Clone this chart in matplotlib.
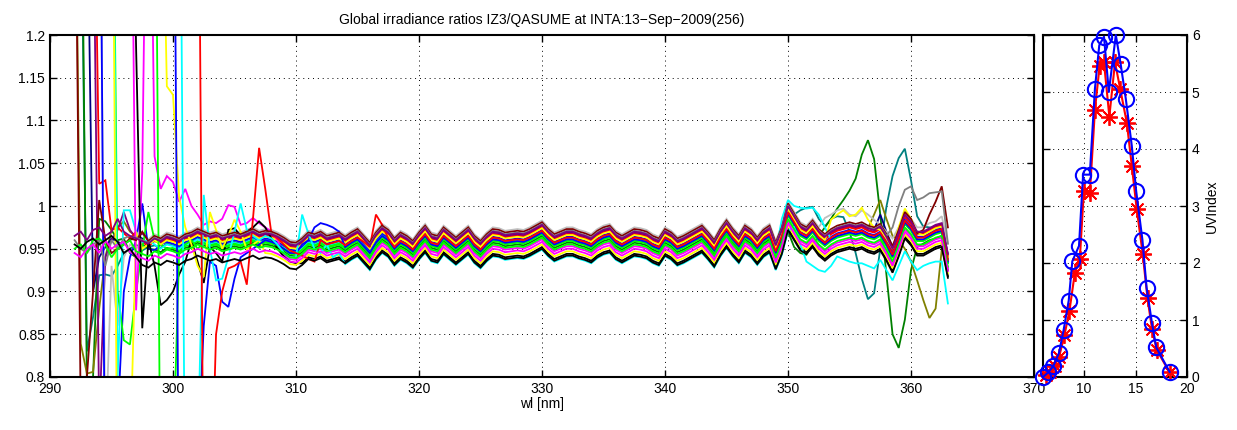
import numpy as np
import matplotlib
matplotlib.use("Agg")
import matplotlib.pyplot as plt

plt.rcParams['font.family'] = ['Liberation Sans', 'DejaVu Sans']
plt.rcParams['font.size'] = 10

# ---------------- data ----------------
wavelength = np.arange(292.0, 363.01, 0.5)   # nm, 143 points

# central (typical) ratio curve read from the band of scans
base_ratio = [
    0.960, 0.958, 0.962, 0.960, 0.958, 0.962, 0.958, 0.960, 0.956, 0.962,
    0.958, 0.955, 0.952, 0.958, 0.955, 0.960, 0.958, 0.955, 0.960, 0.962,
    0.966, 0.963, 0.960, 0.962, 0.958, 0.960,
    0.962, 0.960, 0.963, 0.966, 0.962, 0.964, 0.963, 0.960, 0.956, 0.951,
    0.950, 0.955, 0.962, 0.960, 0.963, 0.958, 0.960, 0.962, 0.957, 0.962,
    0.966, 0.958, 0.950, 0.962, 0.970, 0.965, 0.955, 0.962, 0.958, 0.952,
    0.962, 0.970, 0.960, 0.958, 0.968, 0.962, 0.956, 0.962, 0.968, 0.958,
    0.952, 0.960, 0.966, 0.965, 0.962, 0.963, 0.964, 0.963, 0.966, 0.970,
    0.974, 0.966, 0.960, 0.963, 0.966, 0.966, 0.963, 0.961, 0.958, 0.964,
    0.968, 0.970, 0.962, 0.958, 0.962, 0.966, 0.965, 0.963, 0.958, 0.955,
    0.966, 0.962, 0.955, 0.958, 0.962, 0.966, 0.970, 0.962, 0.953, 0.966,
    0.976, 0.966, 0.958, 0.970, 0.965, 0.956, 0.965, 0.970, 0.950, 0.968,
    0.996, 0.984, 0.972, 0.968, 0.976, 0.966, 0.960, 0.966, 0.970, 0.972,
    0.974, 0.972, 0.974, 0.970, 0.968, 0.972, 0.960, 0.946, 0.965, 0.986,
    0.978, 0.966, 0.966, 0.970, 0.974, 0.976, 0.940,
]

# per-scan level relative to the central curve
series_offsets = [-0.004, -0.009, 0.004, 0.003, 0.002, 0.001, 0.009, -0.002,
                  -0.007, -0.005, 0.000, -0.013, -0.022, -0.006, -0.019, -0.005,
                  -0.025, -0.003, 0.007, 0.005, -0.011, -0.016, -0.024, 0.004]

series_colors = [(0, .5, .5), (0, .5, 0), (.5, .5, 0), (0, 0, .5), (.5, 0, .5),
                 (1, 0, 0), (.75, .75, .75), (0, 0, 1), (0, 1, 0), (0, 1, 1),
                 (1, 1, 0), (1, 0, 1), (0, 0, 0), (0, 1, 0), (1, 1, 0), (0, 0, 1),
                 (0, 1, 1), (1, 0, 0), (.5, 0, 0), (.5, .5, .5), (0, 1, 0),
                 (1, 0, 1), (0, 0, 0), (.5, 0, .5)]

# short-wavelength values of each scan, from 292 nm in 0.5 nm steps
head_teal1 = [1.6, 1.4, 0.83, 0.87, 0.919, 0.92, 0.918, 0.93, 0.945, 0.95, 0.955, 0.948, 0.952]
head_dkgreen1 = [1.6, 1.5, 0.79, 0.80, 0.985, 0.982, 0.972, 0.96, 0.962, 0.945, 0.94, 0.955, 0.95]
head_olive1 = [1.5, 0.839, 0.804, 0.806, 0.88, 0.94, 0.972, 0.975, 0.982, 0.97, 0.965, 0.96]
head_navy1 = [1.6, 1.6, 1.4, 0.90, 0.94, 0.952, 0.962, 0.958, 0.955, 0.96, 0.965, 0.962]
head_purple1 = [1.6, 1.6, 1.6, 1.4, 0.75, 0.94, 0.96, 0.972, 0.993, 0.972, 0.962, 0.968, 0.96]
head_red1 = [1.6, 1.6, 1.6, 1.5, 1.026, 1.03, 0.972, 0.975, 0.968, 0.962, 0.97, 0.958]
head_silver1 = [1.6, 1.6, 1.6, 1.6, 1.5, 0.72, 0.93, 0.86, 0.94, 0.955, 0.95, 0.958]
head_blue1 = [1.6, 1.6, 1.6, 1.6, 1.6, 0.6, 0.6, 0.75, 0.9, 0.94, 0.96, 1.003, 0.95, 0.948, 0.955]
head_lime1 = [1.6, 1.6, 1.6, 1.6, 1.6, 1.6, 1.6, 0.9, 0.843, 0.838, 0.9, 0.95, 0.993, 0.96, 0.955, 0.95]
head_cyan1 = [1.6, 1.6, 1.6, 1.6, 1.6, 1.6, 1.6, 0.8, 0.995, 0.995, 0.97, 0.958, 0.96, 0.955]
head_yellow1 = [1.6, 1.6, 1.6, 1.6, 1.6, 1.6, 1.6, 0.6, 0.6, 0.7, 0.97, 0.95, 0.955, 0.96]
head_magenta1 = [1.6, 1.6, 1.6, 1.6, 1.6, 1.6, 1.6, 1.6, 1.6, 1.6,
                 0.878, 1.04, 1.6, 1.058, 1.02, 1.035, 1.028, 1.005, 1.02, 1.0,
                 0.99, 0.978, 0.982, 0.98, 0.985, 1.001, 0.999, 0.978, 0.98, 0.986,
                 0.98, 0.975, 0.97, 0.96]
head_black1 = [1.6, 1.6, 1.6, 1.6, 1.6, 1.6, 1.6, 1.6, 1.6, 1.6,
               1.185, 0.857, 0.96, 0.93, 0.884, 0.89, 0.90, 0.92, 0.935, 0.96,
               0.935, 0.91, 0.952, 0.945, 0.935, 0.972, 0.974, 0.965, 0.97, 0.975,
               0.982, 0.975, 0.962, 0.95, 0.941, 0.935, 0.933]
head_lime2 = [1.6, 1.6, 1.6, 1.6, 1.6, 1.6, 1.6, 1.6, 1.6, 1.6, 1.6, 1.6, 1.6, 1.6,
              0.6, 0.6, 0.7, 0.945, 0.955, 0.96, 0.95]
head_yellow2 = [1.6, 1.6, 1.6, 1.6, 1.6, 1.6, 1.6, 1.6, 1.6, 1.6, 1.6, 1.6, 1.6, 1.6,
                1.5, 1.14, 1.13, 1.01, 0.975, 0.955, 0.93, 0.917, 0.993, 0.972,
                0.95, 0.965, 0.984, 0.97, 0.949, 0.955, 0.96]
head_blue2 = [1.6, 1.6, 1.6, 1.6, 1.6, 1.6, 1.6, 1.6, 1.6, 1.6, 1.6, 1.6, 1.6, 1.6,
              1.6, 1.6, 1.6,
              0.6, 0.6, 0.6, 0.7, 0.86, 0.935, 0.93, 0.888, 0.882, 0.915,
              0.94, 0.945, 0.95, 0.955, 0.96, 0.958, 0.955, 0.95, 0.945, 0.945,
              0.955, 0.96, 0.975, 0.98, 0.978, 0.975, 0.97]
head_cyan2 = [1.6, 1.6, 1.6, 1.6, 1.6, 1.6, 1.6, 1.6, 1.6, 1.6, 1.6, 1.6, 1.6, 1.6,
              1.6, 1.6, 1.6, 1.6,
              0.6, 0.6, 0.7, 1.013, 0.95, 0.913, 0.915, 0.94, 0.97, 1.003,
              0.972, 0.965, 0.96, 0.965, 0.962, 0.955, 0.945, 0.94, 0.94, 0.99,
              0.968, 0.95, 0.945, 0.955, 0.94, 0.945]
head_red2 = [1.6, 1.6, 1.6, 1.6, 1.6, 1.6, 1.6, 1.6, 1.6, 1.6, 1.6, 1.6, 1.6, 1.6,
             1.6, 1.6, 1.6, 1.6, 1.6, 1.6, 1.6,
             0.6, 0.6, 0.85, 0.9, 0.927, 0.93, 0.935, 0.908, 0.985, 1.068,
             1.02, 0.968, 0.962, 0.955, 0.948, 0.945, 0.942, 0.938, 0.935]
head_maroon1 = [1.5, 0.75, 0.80, 0.90, 1.007, 0.96, 0.945, 0.95, 0.955, 0.962, 0.96, 0.97]
head_gray1 = [0.96, 0.95, 0.945, 0.955, 0.96, 0.93, 0.96, 0.95, 0.962, 0.965]
head_lime3 = [0.95, 0.955, 0.945, 0.96, 0.962, 0.955, 0.94, 0.95, 0.955, 0.96]
head_magenta2 = [0.945, 0.94, 0.95, 0.955, 0.945, 0.96, 0.95, 0.955, 0.958]
head_black2 = [0.955, 0.95, 0.958, 0.962, 0.955, 0.96, 0.965, 0.958, 0.945, 0.95, 0.94]
head_purple2 = [0.965, 0.97, 0.96, 0.972, 0.975, 0.965, 0.97, 0.985, 0.97, 0.965]

series_heads = [head_teal1, head_dkgreen1, head_olive1, head_navy1, head_purple1,
                head_red1, head_silver1, head_blue1, head_lime1, head_cyan1,
                head_yellow1, head_magenta1, head_black1, head_lime2, head_yellow2,
                head_blue2, head_cyan2, head_red2, head_maroon1, head_gray1,
                head_lime3, head_magenta2, head_black2, head_purple2]

# long-wavelength deviations: (series index, start wavelength, values)
tail_teal1 = [0.99, 0.995, 0.998, 0.999, 0.985, 0.976, 0.985, 0.988, 0.987, 0.97,
              0.945, 0.915, 0.891, 0.898, 0.95, 0.999, 1.035, 1.056, 1.067, 1.03,
              0.988, 0.976, 0.975, 0.974, 0.972, 0.935]
tail_dkgreen1 = [0.97, 0.952, 0.945, 0.943, 0.955, 0.965, 0.975, 0.985, 0.997, 1.007,
                 1.018, 1.032, 1.06, 1.077, 1.055, 0.99, 0.92, 0.85, 0.834, 0.867,
                 0.925, 0.952, 0.956, 0.96, 0.962, 0.965, 0.925]
tail_olive1 = [0.99, 1.007, 0.985, 0.965, 0.96, 0.95, 0.935, 0.913, 0.89, 0.869, 0.88, 0.949, 0.94]
tail_navy1 = [0.975, 0.972, 0.99, 0.97, 0.952]
tail_silver1 = [0.986, 0.99, 0.995, 0.997, 0.99, 0.988, 0.995, 0.99, 0.984, 0.978,
                0.97, 0.962, 0.975, 0.99, 0.985, 0.975, 0.975, 0.98, 0.982, 0.988, 0.956]
tail_cyan1 = [0.985, 1.007, 1.0, 0.998, 0.997, 0.998, 0.99, 0.975]
tail_yellow1 = [0.984, 0.99, 0.995, 0.988, 0.99, 0.998, 0.984, 0.975, 0.972, 0.962,
                0.95, 0.975, 0.997, 0.985, 0.968]
tail_cyan2 = [0.975, 0.955, 0.935, 0.93, 0.925, 0.923, 0.93, 0.941, 0.938, 0.935,
              0.933, 0.933, 0.93, 0.927, 0.937, 0.925, 0.913, 0.93, 0.947, 0.935,
              0.925, 0.93, 0.933, 0.935, 0.935, 0.886]
patch_red2 = [0.958, 0.952, 0.99, 0.978]
tail_maroon1 = [0.968, 0.972, 0.99, 1.005, 1.023, 0.975]
tail_gray1 = [0.975, 1.0, 1.019, 1.023, 1.007, 1.01, 1.015, 1.016, 1.017, 0.956]

series_segments = [(0, 350.5, tail_teal1), (1, 350.0, tail_dkgreen1),
                   (2, 357.0, tail_olive1), (3, 356.5, tail_navy1),
                   (6, 353.0, tail_silver1), (9, 349.5, tail_cyan1),
                   (10, 353.5, tail_yellow1), (16, 350.5, tail_cyan2),
                   (17, 315.5, patch_red2), (18, 360.5, tail_maroon1),
                   (19, 358.5, tail_gray1)]

# UV index during the day (hour)
iz3_time = [6.26, 6.65, 7.14, 7.56, 8.08, 8.57, 9.09, 9.58, 9.97, 10.56, 11.05, 11.5,
            11.93, 12.45, 13.0, 13.5, 14.15, 14.63, 15.11, 15.7, 16.16, 16.6, 17.07, 18.31]
iz3_uvi = [0.03, 0.09, 0.20, 0.35, 0.73, 1.16, 1.82, 2.07, 3.26, 3.23, 4.69, 5.45,
           5.52, 4.57, 5.52, 5.06, 4.46, 3.71, 2.95, 2.15, 1.38, 0.84, 0.47, 0.08]
qasume_time = [6.0, 6.5, 7.0, 7.55, 8.0, 8.5, 8.85, 9.5, 9.9, 10.55, 11.05, 11.47,
               11.93, 12.4, 13.08, 13.55, 14.05, 14.63, 15.06, 15.67, 16.07, 16.59, 17.01, 18.31]
qasume_uvi = [0.0, 0.08, 0.19, 0.42, 0.82, 1.34, 2.03, 2.30, 3.55, 3.55, 5.06, 5.82,
              5.97, 5.0, 6.0, 5.49, 4.88, 4.06, 3.26, 2.40, 1.57, 0.95, 0.52, 0.09]

title_text = 'Global irradiance ratios IZ3/QASUME at INTA:13\u2212Sep\u22122009(256)'
ytick_vals = [0.8, 0.85, 0.9, 0.95, 1.0, 1.05, 1.1, 1.15, 1.2]
ytick_labels = ['0.8', '0.85', '0.9', '0.95', '1', '1.05', '1.1', '1.15', '1.2']

# ---------------- figure ----------------
W, H = 1237, 430
fig = plt.figure(figsize=(W / 100, H / 100), dpi=100)
ax = fig.add_axes([50 / W, 1 - 377 / H, 984 / W, 342 / H])
ax2 = fig.add_axes([1043 / W, 1 - 377 / H, 144 / W, 342 / H])

base = np.array(base_ratio)
curves = []
for k in range(len(series_heads)):
    vals = base + series_offsets[k]
    h = series_heads[k]
    vals[:len(h)] = h
    curves.append(vals)
for k, start, seg in series_segments:
    i0 = int(round((start - wavelength[0]) / 0.5))
    curves[k][i0:i0 + len(seg)] = seg

for k, vals in enumerate(curves):
    ax.plot(wavelength, vals, color=series_colors[k], lw=1.3, solid_joinstyle='miter')

ax.set_xlim(290, 370)
ax.set_ylim(0.8, 1.2)
ax.set_xticks(np.arange(290, 371, 10))
ax.set_yticks(ytick_vals)
ax.set_yticklabels(ytick_labels)
ax.grid(True, linestyle=(0, (1, 4)), color='k', lw=0.7)
ax.tick_params(direction='in', top=True, right=True, length=5, width=1, labelsize=10)
for s in ax.spines.values():
    s.set_linewidth(1.5)
ax.set_title(title_text, fontsize=10, pad=8)
ax.set_xlabel('wl [nm]', fontsize=10, labelpad=1)

ax2.plot(iz3_time, iz3_uvi, color='r', ls='-', marker=(8, 2, 0), ms=12, mew=1.3,
         lw=1.5, clip_on=False, zorder=3)
ax2.plot(qasume_time, qasume_uvi, 'b-', marker='o', ms=11, mfc='none', mew=1.5,
         lw=1.5, clip_on=False, zorder=4)
ax2.set_xlim(6, 20)
ax2.set_ylim(0, 6)
ax2.set_xticks([10, 15, 20])
ax2.set_yticks(range(0, 7))
ax2.yaxis.tick_right()
ax2.yaxis.set_label_position('right')
ax2.set_ylabel('UVIndex', fontsize=10, labelpad=4)
ax2.grid(True, linestyle=(0, (1, 4)), color='k', lw=0.7)
ax2.tick_params(direction='in', top=True, left=True, right=True, length=5, width=1,
                labelsize=10)
for s in ax2.spines.values():
    s.set_linewidth(1.5)

fig.savefig('out.png', dpi=100)
